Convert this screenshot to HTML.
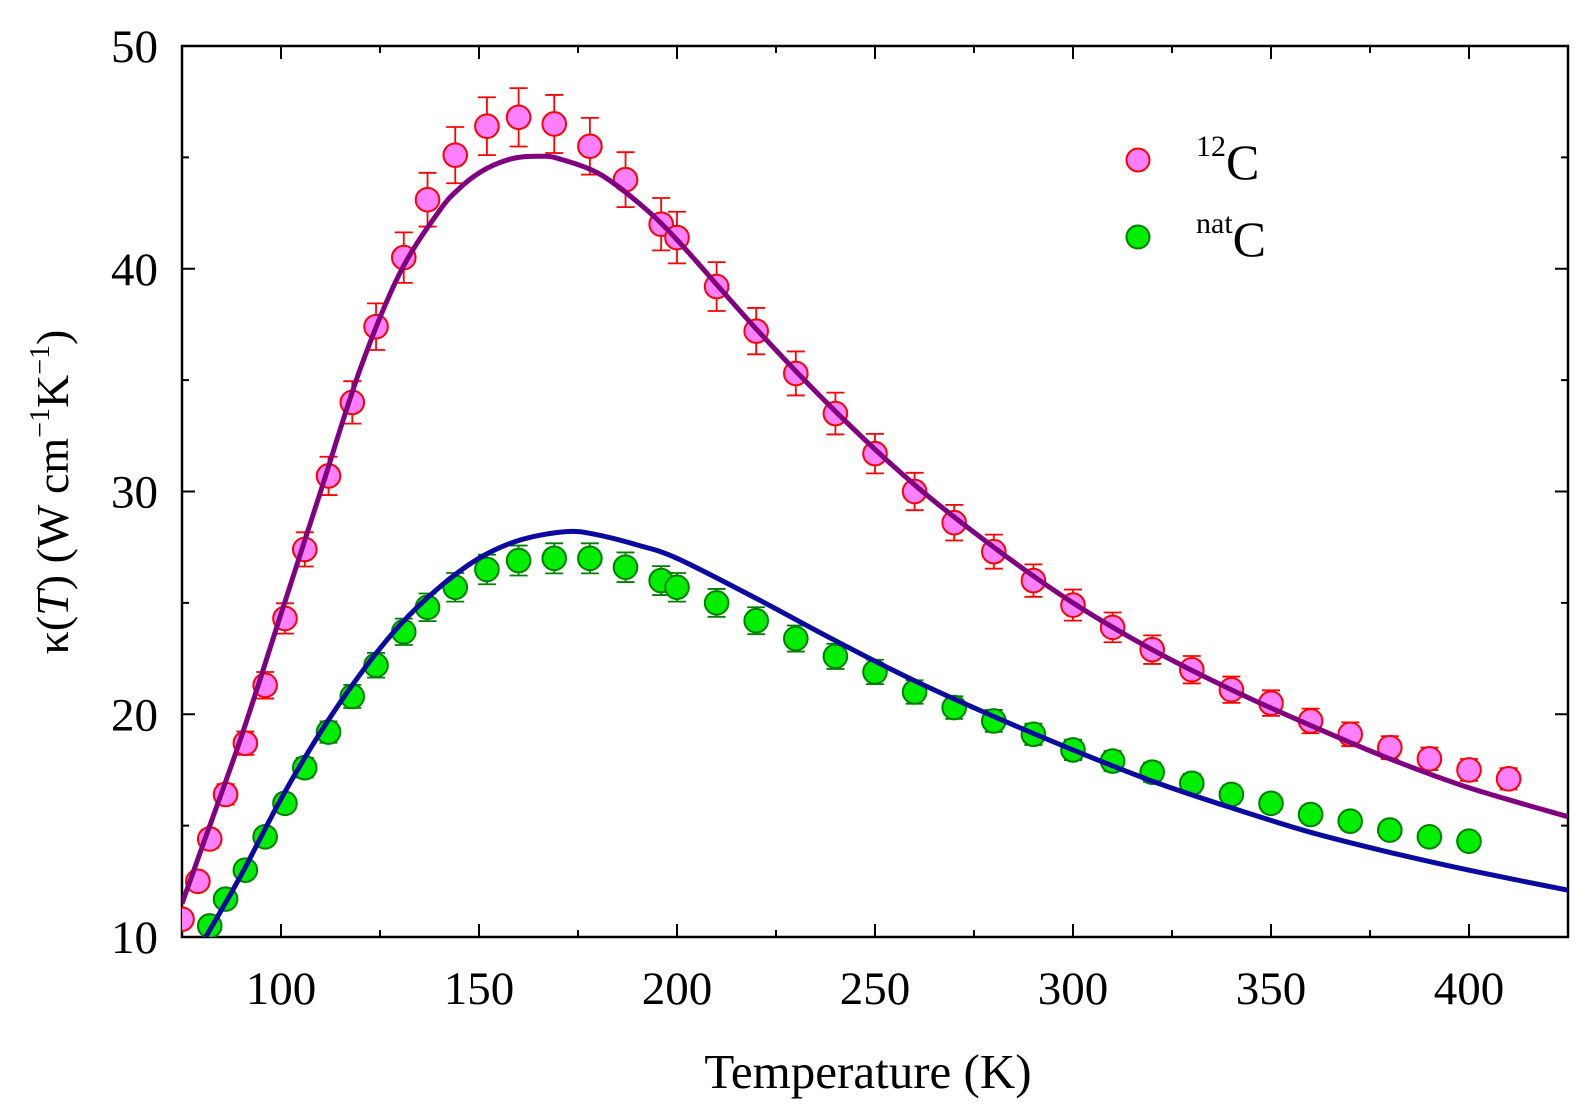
<!DOCTYPE html>
<html><head><meta charset="utf-8"><style>
html,body{margin:0;padding:0;background:#fff;}
svg{display:block;font-family:"Liberation Serif",serif;}
</style></head><body>
<svg id="chart" width="1590" height="1109" viewBox="0 0 1590 1109">
<g id="grid"></g>
<g id="marks"></g>
<text x="868" y="1088" font-size="49" text-anchor="middle">Temperature (K)</text>
<text transform="translate(68,492) rotate(-90)" font-size="46" text-anchor="middle">κ(<tspan font-style="italic">T</tspan>) (W cm<tspan font-size="28" dy="-19">−1</tspan><tspan dy="19">K</tspan><tspan font-size="28" dy="-19">−1</tspan><tspan dy="19">)</tspan></text>
<g>
<circle cx="1138" cy="160" r="11.5" fill="#ff80ff" stroke="#ff0000" stroke-width="2"/>
<text x="1196" y="179" font-size="50"><tspan font-size="30" dy="-23">12</tspan><tspan dy="23">C</tspan></text>
<circle cx="1138" cy="237" r="11.5" fill="#00ee00" stroke="#008000" stroke-width="2"/>
<text x="1196" y="256" font-size="50"><tspan font-size="30" dy="-23">nat</tspan><tspan dy="23">C</tspan></text>
</g>
</svg>
<script>
const xTicks=[100,150,200,250,300,350,400];
const yTicks=[10,20,30,40,50];
const temps12=[75,79,82,86,91,96,101,106,112,118,124,131,137,144,152,160,169,178,187,196,200,210,220,230,240,250,260,270,280,290,300,310,320,330,340,350,360,370,380,390,400,410];
const kappa12=[10.8,12.5,14.4,16.4,18.7,21.3,24.3,27.4,30.7,34.0,37.4,40.5,43.1,45.1,46.4,46.8,46.5,45.5,44.0,42.0,41.4,39.2,37.2,35.3,33.5,31.7,30.0,28.6,27.3,26.0,24.9,23.9,22.9,22.0,21.1,20.5,19.7,19.1,18.5,18.0,17.5,17.1];
const tempsNat=[82,86,91,96,101,106,112,118,124,131,137,144,152,160,169,178,187,196,200,210,220,230,240,250,260,270,280,290,300,310,320,330,340,350,360,370,380,390,400];
const kappaNat=[10.5,11.7,13.0,14.5,16.0,17.6,19.2,20.8,22.2,23.7,24.8,25.7,26.5,26.9,27.0,27.0,26.6,26.0,25.7,25.0,24.2,23.4,22.6,21.9,21.0,20.3,19.7,19.1,18.4,17.9,17.4,16.9,16.4,16.0,15.5,15.2,14.8,14.5,14.3];
const fitT12=[75,80,90,100,110,120,130,140,145,150,155,160,166,170,180,190,200,220,240,260,280,300,320,340,360,380,400,425];
const fitK12=[11.5,14,19,24.5,30,35.5,39.8,42.6,43.6,44.3,44.75,45.0,45.05,44.95,44.3,43.0,41.3,37.3,33.6,30.3,27.5,25.0,22.9,21.1,19.5,18.0,16.7,15.4];
const fitTNat=[81,90,100,110,120,130,140,150,160,172,180,190,200,220,240,260,280,300,320,340,360,380,400,425];
const fitKNat=[10,12.8,16.2,19.2,21.8,24.0,25.7,27.0,27.8,28.2,28.05,27.6,27.0,25.2,23.3,21.5,19.9,18.4,17.0,15.8,14.7,13.8,13.0,12.1];

const L=182,R=1568,T=46,B=937;
const X=v=>281+(v-100)*3.96;
const Y=v=>B-(v-10)*22.275;
const NS="http://www.w3.org/2000/svg";
function mk(tag,attrs,parent){const e=document.createElementNS(NS,tag);for(const k in attrs)e.setAttribute(k,attrs[k]);parent.appendChild(e);return e;}
const grid=document.getElementById('grid'),marks=document.getElementById('marks');
const frame=mk('rect',{x:L,y:T,width:R-L,height:B-T,fill:'none',stroke:'#000','stroke-width':2.5},grid);


for(let v=75;v<=425;v+=25){const x=X(v);const len=(v%50===0)?13:7;
 mk('line',{x1:x,y1:B,x2:x,y2:B-len,stroke:'#000','stroke-width':2},grid);
 mk('line',{x1:x,y1:T,x2:x,y2:T+len,stroke:'#000','stroke-width':2},grid);}
for(let v=10;v<=50;v+=5){const y=Y(v);const len=(v%10===0)?13:7;
 mk('line',{x1:L,y1:y,x2:L+len,y2:y,stroke:'#000','stroke-width':2},grid);
 mk('line',{x1:R,y1:y,x2:R-len,y2:y,stroke:'#000','stroke-width':2},grid);}
xTicks.forEach(v=>{const t=mk('text',{x:X(v),y:1004,'font-size':47,'text-anchor':'middle'},grid);t.textContent=v;
 
 });
yTicks.forEach(v=>{const t=mk('text',{x:158,y:Y(v)+16,'font-size':47,'text-anchor':'end'},grid);t.textContent=v;
 
 });
const cp=mk('clipPath',{id:'cp'},marks);mk('rect',{x:L,y:T,width:R-L,height:B-T},cp);
const g=mk('g',{'clip-path':'url(#cp)'},marks);
function line(ts,ks,color,name){
 const P=ts.map((t,i)=>[X(t),Y(ks[i])]);
 let d='M'+P[0][0].toFixed(1)+','+P[0][1].toFixed(1);
 for(let i=0;i<P.length-1;i++){const p0=P[i-1]||P[i],p1=P[i],p2=P[i+1],p3=P[i+2]||P[i+1];
  const c1=[p1[0]+(p2[0]-p0[0])/6,p1[1]+(p2[1]-p0[1])/6],c2=[p2[0]-(p3[0]-p1[0])/6,p2[1]-(p3[1]-p1[1])/6];
  d+=' C'+c1[0].toFixed(1)+','+c1[1].toFixed(1)+' '+c2[0].toFixed(1)+','+c2[1].toFixed(1)+' '+p2[0].toFixed(1)+','+p2[1].toFixed(1);}
 const p=mk('path',{d:d,fill:'none',stroke:color,'stroke-width':5,'stroke-linejoin':'round'},g);
 
 }
function pts(ts,ks,fill,stroke,frac,name){ts.forEach((t,i)=>{const x=X(t),e=ks[i]*frac;
 const y1=Y(ks[i]+e),y2=Y(ks[i]-e);
 mk('line',{x1:x,y1:y1,x2:x,y2:y2,stroke:stroke,'stroke-width':1.8},g);
 mk('line',{x1:x-9,y1:y1,x2:x+9,y2:y1,stroke:stroke,'stroke-width':1.8},g);
 mk('line',{x1:x-9,y1:y2,x2:x+9,y2:y2,stroke:stroke,'stroke-width':1.8},g);
 const c=mk('circle',{cx:x,cy:Y(ks[i]),r:11.8,fill:fill,stroke:stroke,'stroke-width':2},g);
 
 });}
pts(temps12,kappa12,'#ff80ff','#ff0000',0.028,'point-12c');
pts(tempsNat,kappaNat,'#00ee00','#008000',0.025,'point-natc');
line(fitT12,fitK12,'#800080','fit-line-12c');
line(fitTNat,fitKNat,'#0a0aa0','fit-line-natc');
</script>
</body></html>
